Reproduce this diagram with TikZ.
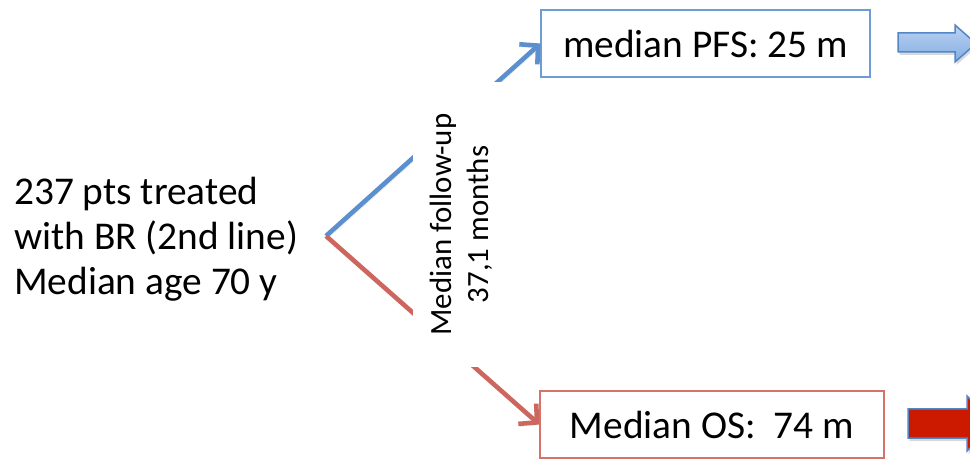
\documentclass[tikz,border=0pt]{standalone}
\usepackage{fontspec}
\setmainfont{Carlito}
\usetikzlibrary{arrows.meta,shadows}
\definecolor{pfsblue}{RGB}{91,143,205}
\definecolor{osred}{RGB}{206,102,96}
\definecolor{pfsedge}{RGB}{110,156,212}
\definecolor{osedge}{RGB}{214,114,108}
\definecolor{arrowblue}{RGB}{84,134,198}
\definecolor{arrowfill}{RGB}{140,180,232}
\definecolor{arrowred}{RGB}{204,26,0}
\tikzset{
  branch/.style={line width=4.6bp, -{Straight Barb[length=13bp,width=27bp,line width=4.6bp]},
    preaction={draw=black!60, opacity=0.18, transform canvas={shift={(1.5bp,-2.5bp)}}}},
  bigtext/.style={font=\fontsize{39.5}{45}\selectfont},
  resultbox/.style={draw, line width=1.2pt, fill=white, inner sep=0pt, bigtext},
  blockarrow/.style={draw=arrowblue, line width=1.5bp, line join=miter,
    drop shadow={shadow xshift=1.5bp, shadow yshift=-3bp, opacity=0.3}},
}
\begin{document}
\begin{tikzpicture}[x=1bp,y=-1bp]
\useasboundingbox (0,0) rectangle (970,461);
\clip (0,0) rectangle (970,461);

% starting cohort
\node[anchor=west, align=left, inner sep=0pt, bigtext] (cohort) at (14,239.5)
  {237 pts treated\\with BR (2nd line)\\Median age 70 y};
\coordinate (fork) at (326,236);

% outcome boxes
\node[resultbox, draw=pfsedge, minimum width=329bp, minimum height=67bp] (pfs) at (705.5,43.5) {median PFS: 25 m};
\node[resultbox, draw=osedge, minimum width=344bp, minimum height=67bp] (os) at (712,424.5) {Median OS:\ \ 74 m};

% branches
\draw[branch, pfsblue] (fork) -- (pfs.west);
\draw[branch, osred] (fork) -- (os.west);

% follow-up label over the branches
\node[fill=white, rotate=90, minimum width=285bp, minimum height=97bp, inner sep=0pt,
  align=center, font=\fontsize{31}{37}\selectfont] (follow) at (461.5,224.5)
  {Median follow-up\\37,1 months};

% continuation arrows
\path[blockarrow, top color=arrowfill!60!white, bottom color=arrowfill!85!arrowblue]
  (898,33) -- (955,33) -- (955,25) -- (976,43.5) -- (955,62) -- (955,52) -- (898,52) -- cycle;
\path[blockarrow, fill=arrowred]
  (908,409) -- (967,409) -- (967,396) -- (995,423.5) -- (967,451) -- (967,438) -- (908,438) -- cycle;
\end{tikzpicture}
\end{document}
